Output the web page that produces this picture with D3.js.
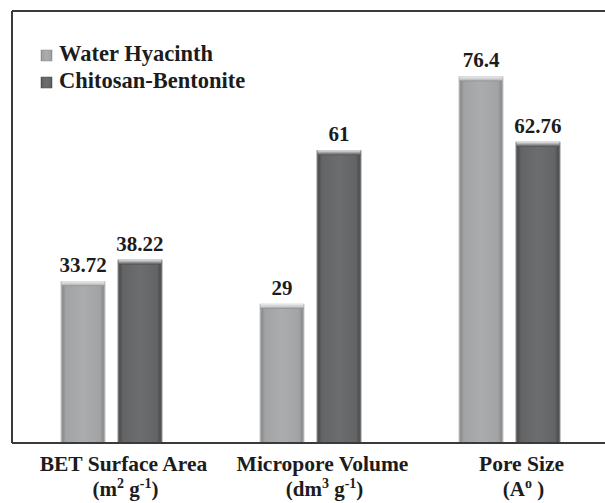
<!DOCTYPE html>
<html>
<head>
<meta charset="utf-8">
<script src="https://cdn.jsdelivr.net/npm/d3@7"></script>
<style>
  body { margin: 0; background: #fff; }
</style>
</head>
<body>
<svg id="chart" width="605" height="503"></svg>
<script>
var categories = ["BET Surface Area", "Micropore Volume", "Pore Size"];
var unitParts = [["(m", "2", " g", "-1", ")"], ["(dm", "3", " g", "-1", ")"], ["(A", "o", " )"]];
var series = ["Water Hyacinth", "Chitosan-Bentonite"];
var waterHyacinth = [33.72, 29, 76.4];
var chitosanBentonite = [38.22, 61, 62.76];
var valueLabels = [["33.72", "29", "76.4"], ["38.22", "61", "62.76"]];

var serif = "'Liberation Serif', 'Times New Roman', serif";
var svg = d3.select("#chart");
var colors = [
  {edge: "#c9cacc", light: "#abacae", mid: "#a2a3a5", dark: "#8a8b8d"},
  {edge: "#8e8f91", light: "#6c6d6f", mid: "#636466", dark: "#4c4d4f"}
];

// gradients for the bevelled bars
var defs = svg.append("defs");
colors.forEach(function (c, i) {
  var g = defs.append("linearGradient").attr("id", "bar" + i)
    .attr("x1", "0").attr("x2", "1").attr("y1", "0").attr("y2", "0");
  g.append("stop").attr("offset", "0").attr("stop-color", c.edge);
  g.append("stop").attr("offset", "0.05").attr("stop-color", c.dark);
  g.append("stop").attr("offset", "0.12").attr("stop-color", c.mid);
  g.append("stop").attr("offset", "0.5").attr("stop-color", c.light);
  g.append("stop").attr("offset", "0.88").attr("stop-color", c.mid);
  g.append("stop").attr("offset", "0.95").attr("stop-color", c.dark);
  g.append("stop").attr("offset", "1").attr("stop-color", c.edge);
  var v = defs.append("linearGradient").attr("id", "top" + i)
    .attr("x1", "0").attr("x2", "0").attr("y1", "0").attr("y2", "1");
  v.append("stop").attr("offset", "0").attr("stop-color", "#ececec");
  v.append("stop").attr("offset", "0.6").attr("stop-color", c.edge);
  v.append("stop").attr("offset", "1").attr("stop-color", c.dark);
});

var y = d3.scaleLinear().domain([0, 90]).range([443, 11]);
var x0 = d3.scaleBand().domain(categories).range([12, 609]).padding(0);
var bw = x0.bandwidth();
var x1 = d3.scaleBand().domain(series).range([bw / 2 - 51, bw / 2 + 51]).paddingInner(0.21);

var rows = [];
categories.forEach(function (cat, i) {
  rows.push({cat: cat, s: 0, v: waterHyacinth[i], label: valueLabels[0][i]});
  rows.push({cat: cat, s: 1, v: chitosanBentonite[i], label: valueLabels[1][i]});
});

function label(sel) {
  return sel.style("font-family", serif).style("font-weight", "bold").attr("fill", "#1c1c1c");
}

// frame
svg.append("line").attr("x1", 12).attr("x2", 605).attr("y1", 11).attr("y2", 11)
  .attr("stroke", "#3a3a3a").attr("stroke-width", 2);
svg.append("line").attr("x1", 12).attr("x2", 12).attr("y1", 11).attr("y2", 443)
  .attr("stroke", "#3a3a3a").attr("stroke-width", 2);

var bars = svg.append("g").selectAll("g").data(rows).enter().append("g");
bars.append("rect")
  .attr("x", function (d) { return x0(d.cat) + x1(series[d.s]); })
  .attr("y", function (d) { return y(d.v); })
  .attr("width", x1.bandwidth())
  .attr("height", function (d) { return y(0) - y(d.v); })
  .attr("fill", function (d) { return "url(#bar" + d.s + ")"; });
bars.append("rect")
  .attr("x", function (d) { return x0(d.cat) + x1(series[d.s]) + 1; })
  .attr("y", function (d) { return y(d.v); })
  .attr("width", x1.bandwidth() - 2)
  .attr("height", 5)
  .attr("fill", function (d) { return "url(#top" + d.s + ")"; });
bars.append("text")
  .call(label)
  .attr("x", function (d) { return x0(d.cat) + x1(series[d.s]) + x1.bandwidth() / 2; })
  .attr("y", function (d) { return y(d.v) - 9; })
  .attr("text-anchor", "middle")
  .attr("font-size", 21)
  .text(function (d) { return d.label; });

// baseline
svg.append("line").attr("x1", 12).attr("x2", 605).attr("y1", 443).attr("y2", 443)
  .attr("stroke", "#3a3a3a").attr("stroke-width", 2);

// category labels
var labels = svg.append("g").selectAll("g").data(categories).enter().append("g");
labels.append("text")
  .call(label)
  .attr("x", function (d) { return x0(d) + bw / 2 + 12; })
  .attr("y", 471)
  .attr("text-anchor", "middle")
  .attr("font-size", 21.5)
  .text(function (d) { return d; });
var units = labels.append("text")
  .call(label)
  .attr("x", function (d) { return x0(d) + bw / 2 + 14; })
  .attr("y", 496)
  .attr("text-anchor", "middle")
  .attr("font-size", 21);
units.each(function (d, i) {
  var t = d3.select(this);
  unitParts[i].forEach(function (part, j) {
    var sup = j % 2 === 1;
    t.append("tspan")
      .attr("font-size", sup ? 14 : 21)
      .attr("dy", sup ? -8 : (j > 0 ? 8 : 0))
      .text(part);
  });
});

// legend
var legend = svg.append("g").selectAll("g").data(series).enter().append("g")
  .attr("transform", function (d, i) { return "translate(41," + (50 + i * 27) + ")"; });
legend.append("rect").attr("width", 11).attr("height", 11)
  .attr("fill", function (d, i) { return "url(#bar" + i + ")"; })
  .attr("stroke", function (d, i) { return colors[i].dark; })
  .attr("stroke-width", 0.5);
legend.append("text").call(label).attr("x", 18).attr("y", 11).attr("font-size", 22.5)
  .text(function (d) { return d; });
</script>
</body>
</html>
